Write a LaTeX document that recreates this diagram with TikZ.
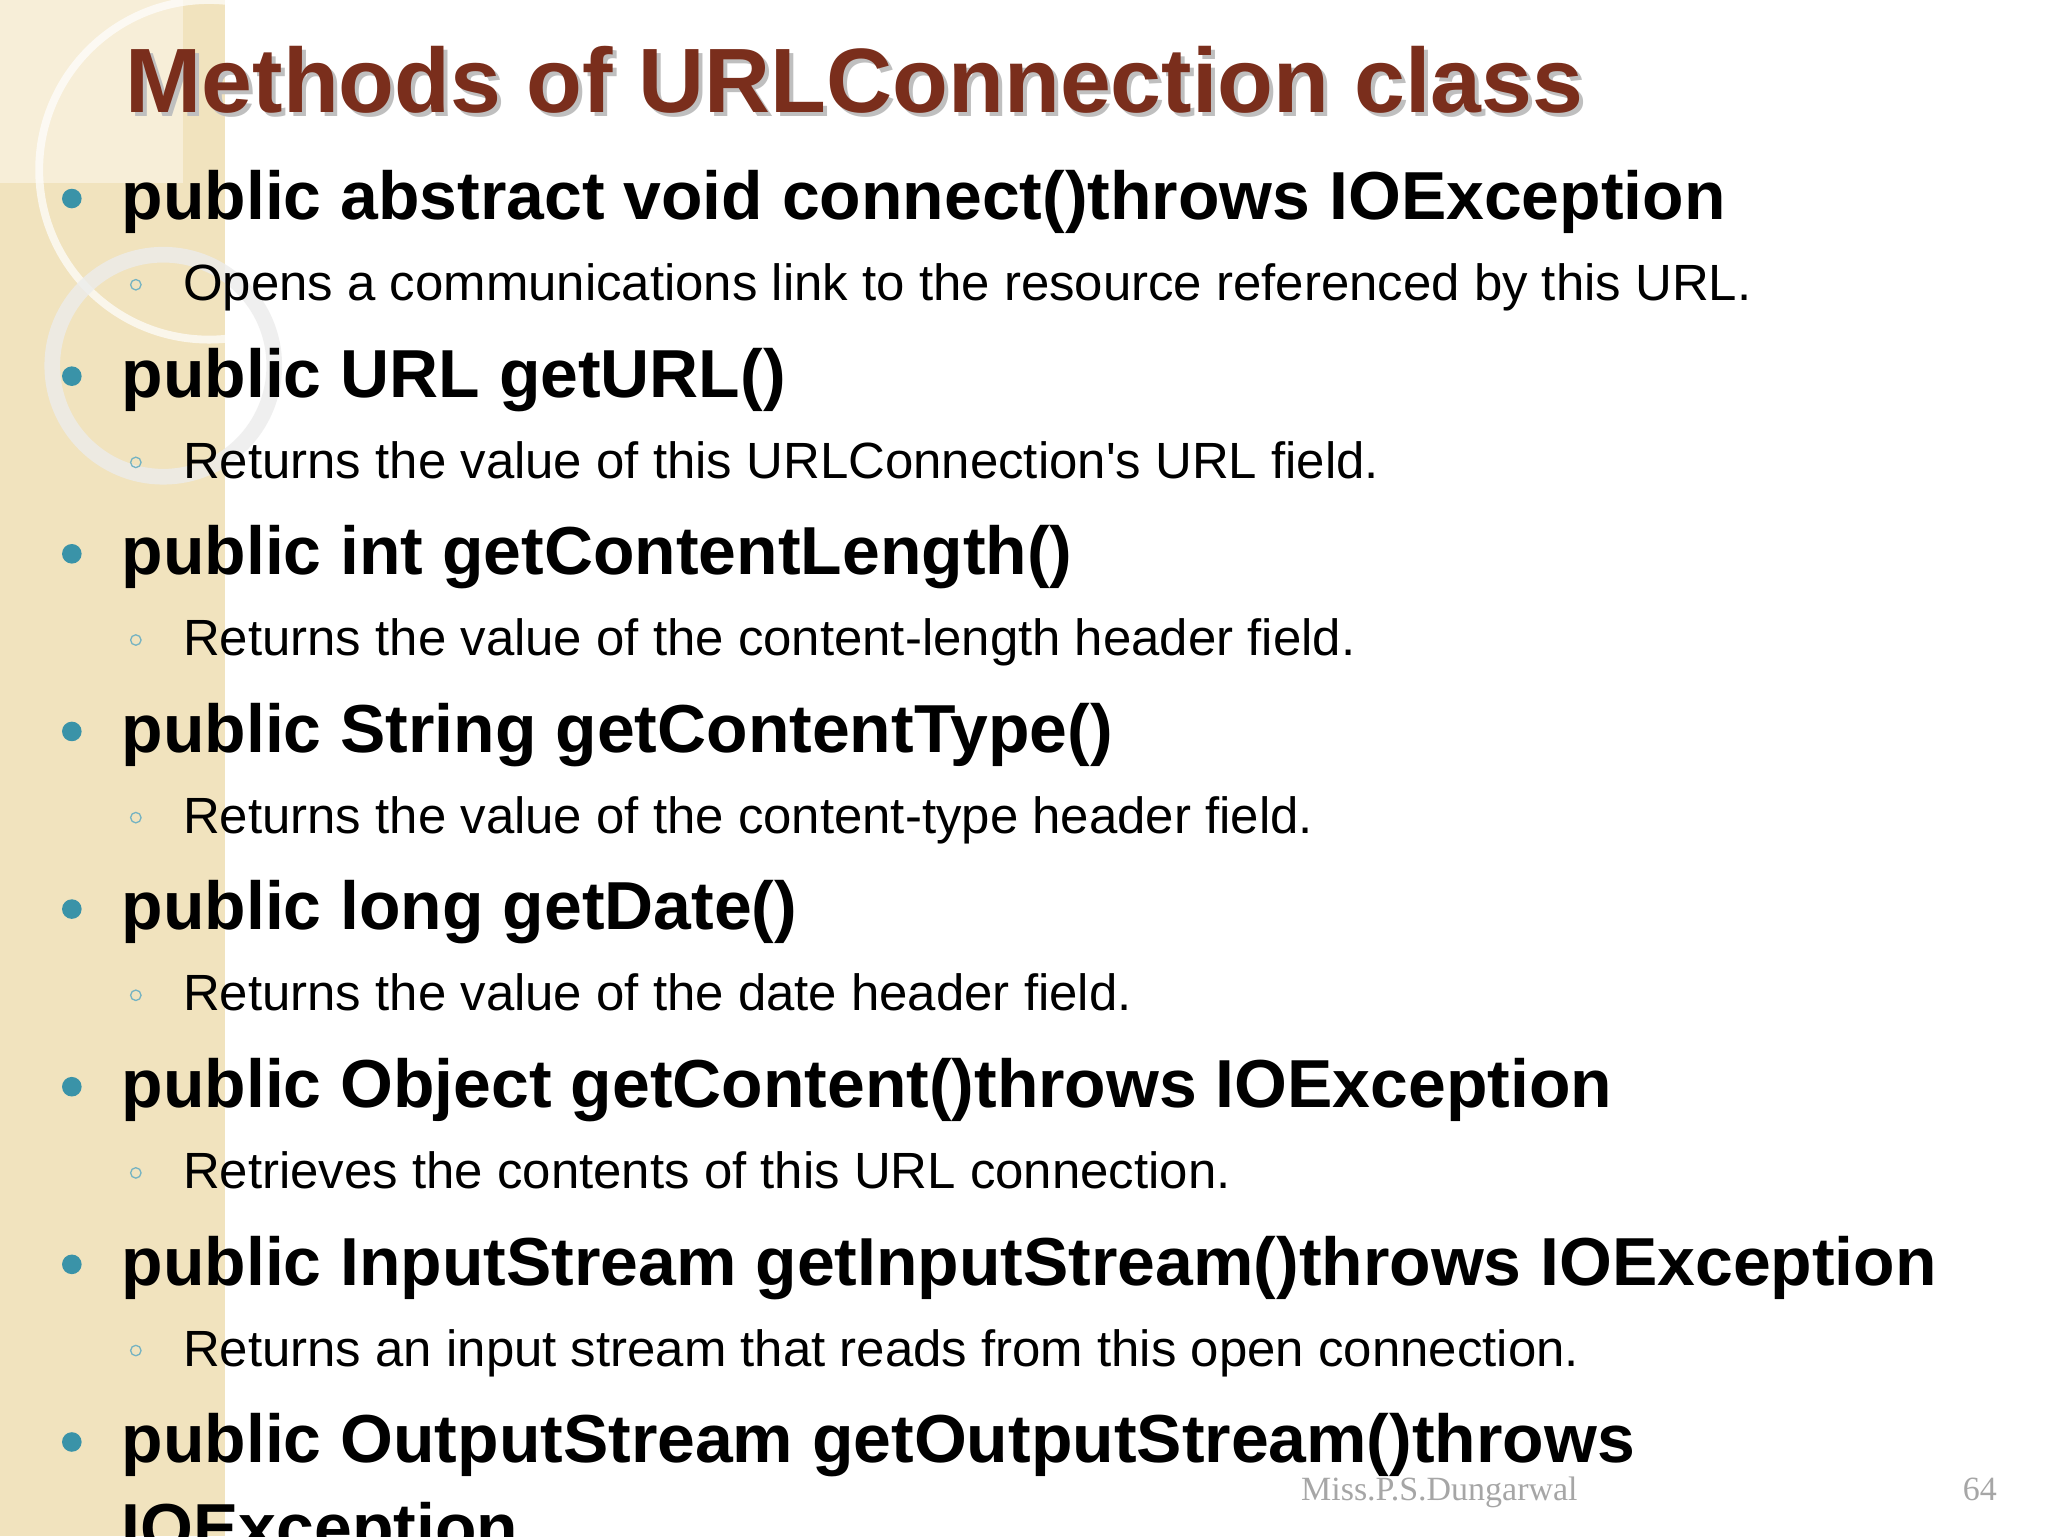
\documentclass[tikz,border=0pt]{standalone}
\usepackage{fontspec}
\setmainfont{Liberation Sans}[Ligatures=TeXOff]
\newfontfamily\footfont{Liberation Serif}
\definecolor{titlec}{HTML}{7A2E1C}
\definecolor{bul}{HTML}{3A93A8}
\definecolor{strip}{HTML}{F1E3BE}
\tikzset{
 big/.style={anchor=base west,inner sep=0,font=\fontsize{52}{52}\selectfont\bfseries},
 small/.style={anchor=base west,inner sep=0,font=\fontsize{39}{39}\selectfont},
 dot/.style={circle,fill=bul,minimum size=15pt,inner sep=0},
 sdot/.style={circle,draw=bul!70,line width=1pt,minimum size=8pt,inner sep=0}
}
\begin{document}
\begin{tikzpicture}[x=1pt,y=-1pt]
\useasboundingbox (0,0) rectangle (1568,1176);
\clip (0,0) rectangle (1568,1176);
\fill[white] (0,0) rectangle (1568,1176);
\fill[strip] (0,0) rectangle (172,1176);
\fill[strip!60] (0,0) rectangle (140,140);
\draw[white,line width=6pt,opacity=0.7] (160,130) circle (130);
\draw[white!85!gray,line width=12pt,opacity=0.8] (125,280) circle (85);
\node[anchor=base west,inner sep=0,font=\fontsize{70}{70}\selectfont\bfseries,text=gray!50] at (99,89) {Methods of URLConnection class};
\node (title)[anchor=base west,inner sep=0,font=\fontsize{70}{70}\selectfont\bfseries,text=titlec] at (96,86) {Methods of URLConnection class};
\foreach \i/\b/\s in {0/public abstract void connect()throws IOException/Opens a communications link to the resource referenced by this URL.,
 1/public URL getURL()/Returns the value of this URLConnection's URL field.,
 2/public int getContentLength()/Returns the value of the content-length header field.,
 3/public String getContentType()/Returns the value of the content-type header field.,
 4/public long getDate()/Returns the value of the date header field.,
 5/public Object getContent()throws IOException/Retrieves the contents of this URL connection.,
 6/public InputStream getInputStream()throws IOException/Returns an input stream that reads from this open connection.}{
  \node (b\i)[big] at (93,{168+136*\i}) {\b};
  \node (bd\i)[dot] at (55,{152+136*\i}) {};
  \node (s\i)[small] at (140,{230+136*\i}) {\s};
  \node (sd\i)[sdot] at (104,{218+136*\i}) {};
}
\node (b7)[big] at (93,1120) {public OutputStream getOutputStream()throws};
\node (bd7)[dot] at (55,1104) {};
\node (b8)[big] at (93,1188) {IOException};
\node (foot)[anchor=base west,inner sep=0,font=\footfont\fontsize{26}{26}\selectfont,text=gray!70] at (996,1149) {Miss.P.S.Dungarwal};
\node (num)[anchor=base east,inner sep=0,font=\footfont\fontsize{26}{26}\selectfont,text=gray!70] at (1529,1149) {64};
\end{tikzpicture}
\end{document}
